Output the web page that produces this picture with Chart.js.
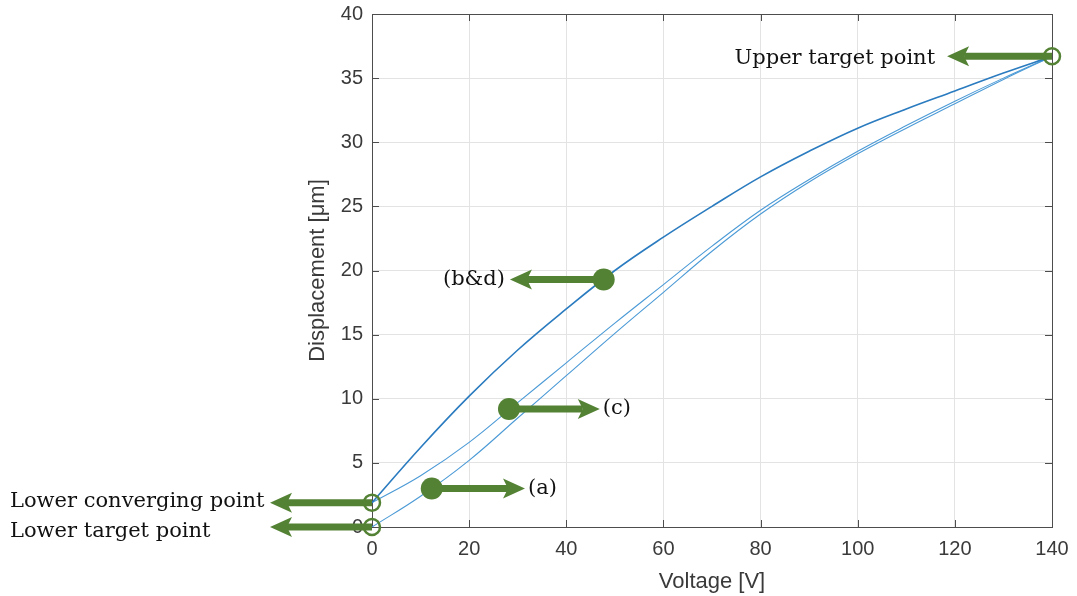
<!DOCTYPE html>
<html>
<head>
<meta charset="utf-8">
<script src="https://cdn.jsdelivr.net/npm/chart.js@4"></script>
<style>
  html, body { margin: 0; padding: 0; background: #fff; }
  #wrap { width: 1077px; height: 596px; position: relative; }
</style>
</head>
<body>
<div id="wrap"><canvas id="c"></canvas></div>
<script>
// Hysteresis loop, voltage [V] vs displacement [um]
const voltage   = [0, 10, 20, 30, 40, 50, 60, 70, 80, 90, 100, 110, 120, 130, 140];
const ascendA   = [0, 2.4, 5.2, 8.5, 11.8, 15.1, 18.3, 21.5, 24.4, 26.9, 29.1, 31.1, 33.0, 34.9, 36.7];
const ascendC   = [1.9, 4.0, 6.6, 9.7, 12.8, 15.9, 18.9, 21.9, 24.7, 27.1, 29.3, 31.3, 33.2, 35.0, 36.7];
const descendBD = [1.9, 6.2, 10.2, 13.8, 17.0, 20.0, 22.6, 25.0, 27.3, 29.3, 31.1, 32.6, 34.0, 35.4, 36.7];

// state markers (filled) and target / converging points (open)
const stateLabels = ['(a)', '(b&d)', '(c)'];
const stateV      = [12.3, 47.7, 28.2];
const stateD      = [3.0, 19.3, 9.2];
const stateTipV   = [31.5, 28.4, 46.9];

const targetLabels = ['Lower converging point', 'Lower target point', 'Upper target point'];
const targetV      = [0, 0, 140];
const targetD      = [1.9, 0, 36.7];
const targetTipV   = [-21, -21, 118.4];

const xTicks = [0, 20, 40, 60, 80, 100, 120, 140];
const yTicks = [0, 5, 10, 15, 20, 25, 30, 35, 40];

const GREEN = '#548235';
const AXIS = '#4d4d4d';

function xy(vs, ds) { return vs.map((v, i) => ({x: v, y: ds[i]})); }

function arrow(ctx, x0, y, x1) {
  const dir = x1 > x0 ? 1 : -1;
  const head = 22, half = 10, notch = 5;
  ctx.save();
  ctx.strokeStyle = GREEN; ctx.fillStyle = GREEN;
  ctx.lineWidth = 7; ctx.lineCap = 'butt';
  ctx.beginPath(); ctx.moveTo(x0, y); ctx.lineTo(x1 - dir * (head - notch), y); ctx.stroke();
  ctx.beginPath();
  ctx.moveTo(x1, y);
  ctx.lineTo(x1 - dir * head, y - half);
  ctx.lineTo(x1 - dir * (head - notch), y);
  ctx.lineTo(x1 - dir * head, y + half);
  ctx.closePath(); ctx.fill();
  ctx.restore();
}

const annotate = {
  id: 'annotate',
  beforeDatasetsDraw(chart) {
    const {ctx, chartArea: a} = chart;
    ctx.save();
    ctx.strokeStyle = AXIS; ctx.lineWidth = 1;
    ctx.strokeRect(a.left + 0.5, a.top + 0.5, a.right - a.left, a.bottom - a.top);
    // inward ticks like MATLAB
    const xs = chart.scales.x, ys = chart.scales.y;
    ctx.beginPath();
    xTicks.forEach(t => {
      const px = Math.round(xs.getPixelForValue(t)) + 0.5;
      ctx.moveTo(px, a.bottom); ctx.lineTo(px, a.bottom - 7);
      ctx.moveTo(px, a.top); ctx.lineTo(px, a.top + 7);
    });
    yTicks.forEach(t => {
      const py = Math.round(ys.getPixelForValue(t)) + 0.5;
      ctx.moveTo(a.left, py); ctx.lineTo(a.left + 7, py);
      ctx.moveTo(a.right, py); ctx.lineTo(a.right - 7, py);
    });
    ctx.stroke();
    ctx.restore();
  },
  beforeDatasetDraw(chart, args) {
    if (args.index !== 1) return;
    const {ctx} = chart;
    const xs = chart.scales.x, ys = chart.scales.y;
    ctx.save();
    ctx.font = '21px "DejaVu Serif"';
    ctx.fillStyle = '#111';
    ctx.textBaseline = 'middle';
    stateLabels.forEach((lab, i) => {
      const x0 = xs.getPixelForValue(stateV[i]), y = ys.getPixelForValue(stateD[i]);
      const x1 = xs.getPixelForValue(stateTipV[i]);
      arrow(ctx, x0, y, x1);
      if (x1 > x0) { ctx.textAlign = 'left'; ctx.fillText(lab, x1 + 3, y); }
      else { ctx.textAlign = 'right'; ctx.fillText(lab, x1 - 5, y); }
    });
    targetLabels.forEach((lab, i) => {
      const x0 = xs.getPixelForValue(targetV[i]), y = ys.getPixelForValue(targetD[i]);
      const x1 = xs.getPixelForValue(targetTipV[i]);
      arrow(ctx, x0, y, x1);
      if (targetTipV[i] < 0) { ctx.textAlign = 'left'; ctx.fillText(lab, 10, y + (targetD[i] === 0 ? 5 : -1)); }
      else { ctx.textAlign = 'right'; ctx.fillText(lab, x1 - 12, y + 2); }
    });
    ctx.restore();
  }
};

new Chart(document.getElementById('c'), {
  type: 'line',
  data: {
    datasets: [
      {label: 'states', type: 'scatter', data: xy(stateV, stateD), clip: false,
       pointRadius: 11, pointBackgroundColor: GREEN, pointBorderColor: GREEN, pointBorderWidth: 0},
      {label: 'targets', type: 'scatter', data: xy(targetV, targetD), clip: false,
       pointRadius: 8, pointBackgroundColor: 'rgba(0,0,0,0)', pointBorderColor: GREEN, pointBorderWidth: 2.5},
      {label: 'b&d', data: xy(voltage, descendBD), borderColor: '#2a7bbf', borderWidth: 1.6,
       pointRadius: 0, tension: 0.4, fill: false},
      {label: 'c', data: xy(voltage, ascendC), borderColor: '#4b9ad6', borderWidth: 1.1,
       pointRadius: 0, tension: 0.4, fill: false},
      {label: 'a', data: xy(voltage, ascendA), borderColor: '#4b9ad6', borderWidth: 1.1,
       pointRadius: 0, tension: 0.4, fill: false}
    ]
  },
  options: {
    responsive: true,
    maintainAspectRatio: false,
    animation: false,
    layout: {padding: {left: 305, top: 14, right: 25, bottom: 0}},
    plugins: {legend: {display: false}, tooltip: {enabled: false}},
    scales: {
      x: {
        type: 'linear', min: 0, max: 140,
        afterBuildTicks: s => { s.ticks = xTicks.map(v => ({value: v})); },
        afterFit: s => { s.height = 69; s.paddingLeft = 0; s.paddingRight = 0; },
        grid: {color: '#e3e3e3', drawTicks: false},
        border: {display: false},
        ticks: {color: '#3a3a3a', font: {family: '"Liberation Sans", Arial', size: 20}, padding: 10, maxRotation: 0},
        title: {display: true, text: 'Voltage [V]', color: '#3a3a3a',
                font: {family: '"Liberation Sans", Arial', size: 22}, padding: {top: 0, bottom: 1}}
      },
      y: {
        type: 'linear', min: 0, max: 40,
        afterBuildTicks: s => { s.ticks = yTicks.map(v => ({value: v})); },
        afterFit: s => { s.width = 67; s.paddingTop = 0; s.paddingBottom = 0; },
        grid: {color: '#e3e3e3', drawTicks: false},
        border: {display: false},
        ticks: {color: '#3a3a3a', font: {family: '"Liberation Sans", Arial', size: 20}, padding: 9},
        title: {display: true, text: 'Displacement [μm]', color: '#3a3a3a',
                font: {family: '"Liberation Sans", Arial', size: 22}, padding: {top: 0, bottom: 0}}
      }
    }
  },
  plugins: [annotate]
});
</script>
</body>
</html>
